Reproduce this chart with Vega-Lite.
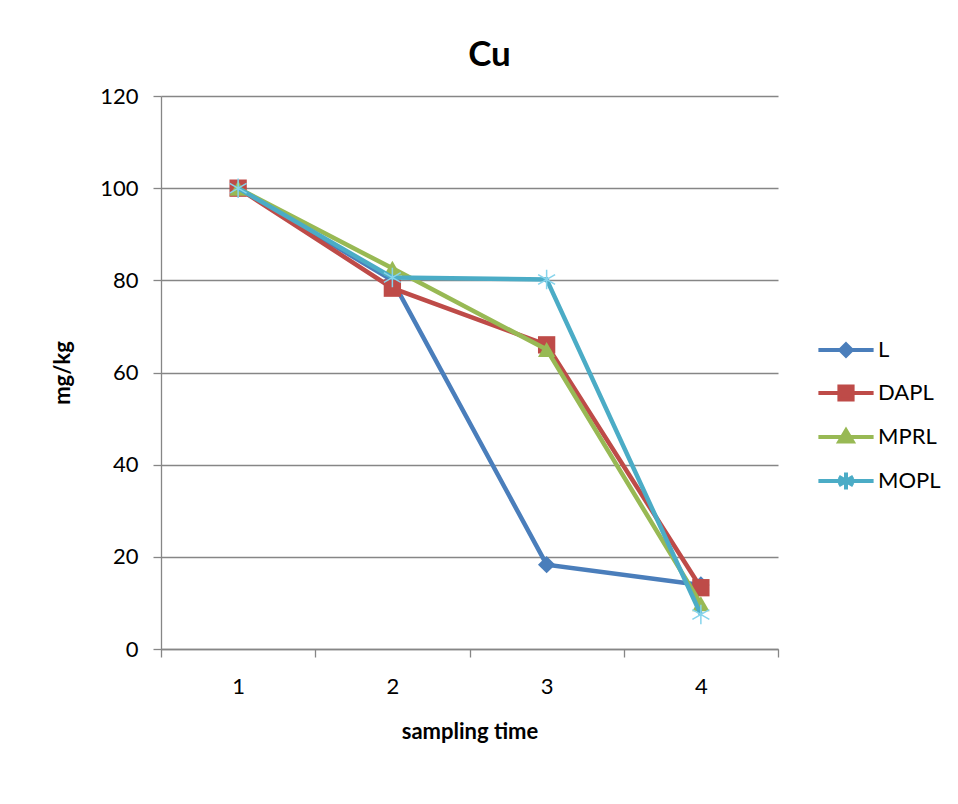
{
  "$schema": "https://vega.github.io/schema/vega-lite/v6.json",
  "width": 617,
  "height": 553,
  "autosize": "none",
  "padding": {"left": 161, "top": 96, "right": 180, "bottom": 155},
  "background": "white",
  "title": {"text": "Cu", "font": "Lato", "fontSize": 35, "fontWeight": "bold", "color": "#000000", "anchor": "middle", "frame": "group", "baseline": "alphabetic", "offset": 28, "dx": 20, "dy": 44},
  "data": {
    "values": [
      {"time": 1, "series": "L", "value": 100},
      {"time": 2, "series": "L", "value": 80},
      {"time": 3, "series": "L", "value": 18.3},
      {"time": 4, "series": "L", "value": 13.9},
      {"time": 1, "series": "DAPL", "value": 100},
      {"time": 2, "series": "DAPL", "value": 78.3},
      {"time": 3, "series": "DAPL", "value": 66},
      {"time": 4, "series": "DAPL", "value": 13.3},
      {"time": 1, "series": "MPRL", "value": 100},
      {"time": 2, "series": "MPRL", "value": 82.6},
      {"time": 3, "series": "MPRL", "value": 65},
      {"time": 4, "series": "MPRL", "value": 9.8},
      {"time": 1, "series": "MOPL", "value": 100},
      {"time": 2, "series": "MOPL", "value": 80.6},
      {"time": 3, "series": "MOPL", "value": 80.2},
      {"time": 4, "series": "MOPL", "value": 7.5}
    ]
  },
  "encoding": {
    "x": {
      "field": "time", "type": "ordinal",
      "scale": {"type": "band", "paddingInner": 0, "paddingOuter": 0},
      "title": "sampling time",
      "axis": {
        "tickBand": "extent", "labelAngle": 0, "labelFont": "Lato", "labelFontSize": 22, "labelColor": "#000000",
        "labelPadding": 19, "tickSize": 8, "tickColor": "#868686", "tickWidth": 1.3, "domainColor": "#868686", "domainWidth": 1.3,
        "titleFont": "Lato", "titleFontSize": 22, "titleFontWeight": "bold", "titleColor": "#000000", "titlePadding": 24, "grid": false
      }
    },
    "y": {
      "field": "value", "type": "quantitative",
      "scale": {"domain": [0, 120]},
      "title": "mg/kg",
      "axis": {
        "values": [0, 20, 40, 60, 80, 100, 120], "labelFont": "Lato", "labelFontSize": 22, "labelColor": "#000000",
        "labelPadding": 15, "tickSize": 8, "tickColor": "#868686", "tickWidth": 1.3, "domainColor": "#868686", "domainWidth": 1.3,
        "grid": true, "gridColor": "#868686", "gridWidth": 1.3,
        "titleFont": "Lato", "titleFontSize": 22, "titleFontWeight": "bold", "titleColor": "#000000", "titlePadding": 25
      }
    },
    "color": {
      "field": "series", "type": "nominal",
      "scale": {"domain": ["L", "DAPL", "MPRL", "MOPL"], "range": ["#4a7ebb", "#be4b48", "#98b954", "#4bacc6"]},
      "legend": {
        "orient": "none", "legendX": 657, "legendY": 243, "title": null, "padding": 0,
        "labelFont": "Lato", "labelFontSize": 22, "labelColor": "#000000",
        "symbolSize": 144, "symbolOffset": 17, "labelOffset": 21, "rowPadding": 14, "symbolStrokeWidth": 4, "symbolOpacity": 1
      }
    }
  },
  "layer": [
    {
      "mark": {"type": "point", "filled": true, "opacity": 0, "size": 144},
      "encoding": {
        "shape": {
          "field": "series", "type": "nominal",
          "scale": {"domain": ["L", "DAPL", "MPRL", "MOPL"], "range": [
            "M-4.6,0L4.6,0M0,-0.95L0.95,0L0,0.95L-0.95,0Z",
            "M-4.6,0L4.6,0M-1.1,-1.1L1.1,-1.1L1.1,1.1L-1.1,1.1Z",
            "M-4.6,0L4.6,0M-1.1,0.75L0,-1.1L1.1,0.75Z",
            "M-4.6,0L4.6,0M0,-1.4L0,1.4M-1.2,-0.7L1.2,0.7M-1.2,0.7L1.2,-0.7"
          ]},
          "legend": {"symbolOpacity": 1}
        }
      }
    },
    {"transform": [{"filter": {"field": "series", "equal": "L"}}], "mark": {"type": "line", "strokeWidth": 4.5}},
    {"transform": [{"filter": {"field": "series", "equal": "L"}}], "mark": {"type": "point", "filled": true, "opacity": 1, "size": 300, "shape": "diamond"}},
    {"transform": [{"filter": {"field": "series", "equal": "DAPL"}}], "mark": {"type": "line", "strokeWidth": 4.5}},
    {"transform": [{"filter": {"field": "series", "equal": "DAPL"}}], "mark": {"type": "point", "filled": true, "opacity": 1, "size": 300, "shape": "square"}},
    {"transform": [{"filter": {"field": "series", "equal": "MPRL"}}], "mark": {"type": "line", "strokeWidth": 4.5}},
    {"transform": [{"filter": {"field": "series", "equal": "MPRL"}}], "mark": {"type": "point", "filled": true, "opacity": 1, "size": 300, "shape": "triangle-up"}},
    {"transform": [{"filter": {"field": "series", "equal": "MOPL"}}], "mark": {"type": "line", "strokeWidth": 4.5}},
    {"transform": [{"filter": {"field": "series", "equal": "MOPL"}}], "mark": {"type": "point", "filled": false, "opacity": 1, "size": 380, "strokeWidth": 1.5, "color": "#86d4ec", "shape": "M0,-1L0,1M-0.87,-0.5L0.87,0.5M-0.87,0.5L0.87,-0.5"}, "encoding": {"color": {"value": "#86d4ec"}}}
  ],
  "config": {"view": {"stroke": null}, "font": "Lato"}
}
